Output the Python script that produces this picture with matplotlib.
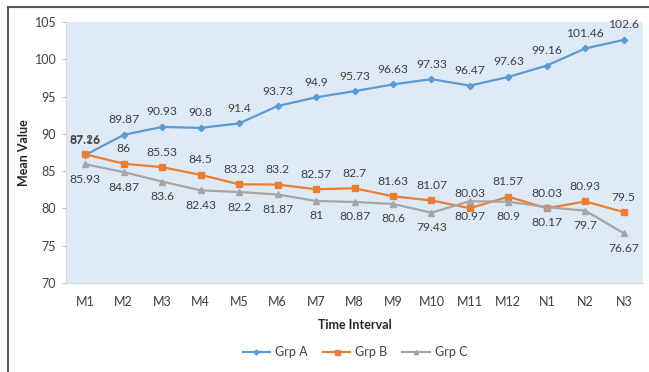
import matplotlib
matplotlib.use("Agg")
import matplotlib.pyplot as plt
from matplotlib.lines import Line2D

plt.rcParams['font.family'] = ['Lato', 'DejaVu Sans']

categories = ["M1", "M2", "M3", "M4", "M5", "M6", "M7", "M8", "M9", "M10",
              "M11", "M12", "N1", "N2", "N3"]
grp_a = [87.16, 89.87, 90.93, 90.8, 91.4, 93.73, 94.9, 95.73, 96.63, 97.33,
         96.47, 97.63, 99.16, 101.46, 102.6]
grp_b = [87.26, 86, 85.53, 84.5, 83.23, 83.2, 82.57, 82.7, 81.63, 81.07,
         80.03, 81.57, 80.03, 80.93, 79.5]
grp_c = [85.93, 84.87, 83.6, 82.43, 82.2, 81.87, 81, 80.87, 80.6, 79.43,
         80.97, 80.9, 80.17, 79.7, 76.67]
y_ticks = [70, 75, 80, 85, 90, 95, 100, 105]

W, H = 649, 372
fig = plt.figure(figsize=(W / 100, H / 100), dpi=100)
ax = fig.add_axes([66 / W, 1 - 283 / H, (643 - 66) / W, (283 - 22) / H])
ax.set_facecolor("#DEEBF7")

x = list(range(len(categories)))
series = [
    ("Grp A", grp_a, "#5B9BD5", "D", 3.2, 1),
    ("Grp B", grp_b, "#ED7D31", "s", 4.5, 1),
    ("Grp C", grp_c, "#A5A5A5", "^", 3.8, -1),
]
handles = []
for name, vals, color, marker, ms, side in series:
    ax.plot(x, vals, color=color, lw=1.6, marker=marker, ms=ms,
            markeredgecolor=color, markerfacecolor=color, zorder=3)
    for xi, v in zip(x, vals):
        ax.annotate(f"{v:g}", (xi, v), xytext=(0, 15 * side),
                    textcoords="offset pixels", ha="center", va="center",
                    fontsize=8.7, color="#404040", zorder=4)
    handles.append(Line2D([], [], color=color, lw=1.6, marker=marker,
                          ms=ms * 0.8, markerfacecolor=color,
                          markeredgecolor=color, label=name))

ax.set_xlim(-0.5, len(categories) - 0.5)
ax.set_ylim(70, 105)
ax.set_yticks(y_ticks)
ax.set_xticks(x)
ax.set_xticklabels(categories)
ax.tick_params(axis="y", length=3, color="#BFBFBF", labelsize=9,
               labelcolor="#404040", pad=4)
ax.tick_params(axis="x", length=0, labelsize=9, labelcolor="#404040", pad=9)
for s in ["top", "right"]:
    ax.spines[s].set_visible(False)
ax.spines["left"].set_color("#D9D9D9")
ax.spines["bottom"].set_color("#D9D9D9")

ax.set_xlabel("Time Interval", fontsize=9, fontweight="bold", color="#262626",
              labelpad=8)
ax.set_ylabel("Mean Value", fontsize=9, fontweight="bold", color="#262626")
ax.yaxis.set_label_coords((30 - 66) / (643 - 66), 0.5)

fig.legend(handles=handles, loc="center", bbox_to_anchor=(355 / W, 1 - 352 / H),
           ncol=3, frameon=False, fontsize=9, handlelength=2.2,
           columnspacing=1.2, handletextpad=0.4, labelcolor="#404040")

# outer frame lines
fig.add_artist(Line2D([8 / W, 8 / W], [0, 1 - 7 / H], transform=fig.transFigure,
                      color="#595959", lw=1.5))
fig.add_artist(Line2D([8 / W, 1], [1 - 7 / H, 1 - 7 / H], transform=fig.transFigure,
                      color="#595959", lw=1.5))

fig.savefig("out.png", dpi=100, facecolor="white")
